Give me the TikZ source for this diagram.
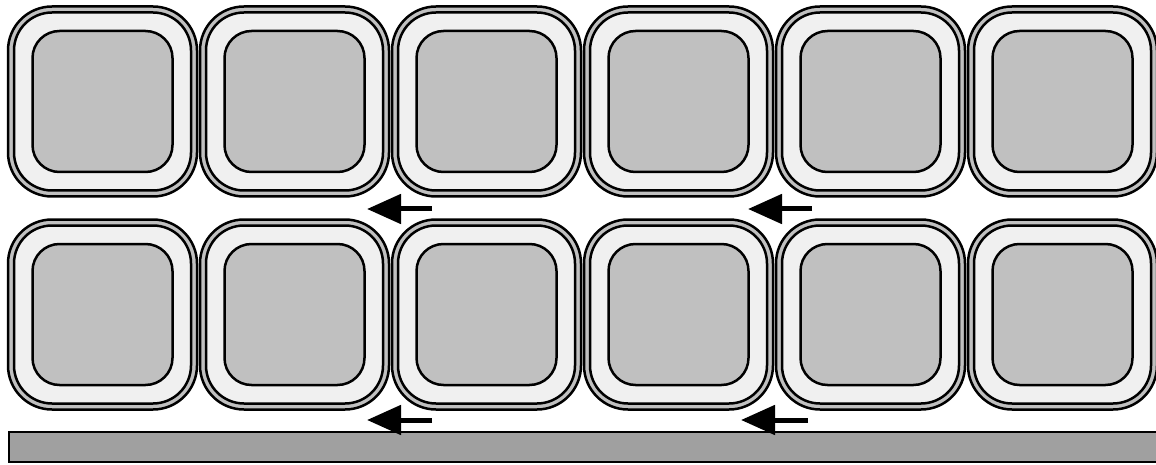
\documentclass[tikz,border=0pt]{standalone}
\usetikzlibrary{arrows.meta}
\definecolor{rimgray}{RGB}{192,192,192}
\definecolor{bandgray}{RGB}{240,240,240}
\definecolor{floorgray}{RGB}{160,160,160}

\begin{document}
\begin{tikzpicture}[x=1pt,y=-1pt,
  cellrim/.style={draw=black,line width=2.5pt,fill=rimgray,rounded corners=44pt},
  cellband/.style={draw=black,line width=2.5pt,fill=bandgray,rounded corners=38pt},
  cellcore/.style={draw=black,line width=2.5pt,fill=rimgray,rounded corners=27pt},
  push/.style={line width=5pt,-{Triangle[length=34pt,width=29pt]}}]
  \useasboundingbox (0,0) rectangle (1156,465);
  % cells, two rows of six
  \foreach \i in {0,...,5}
    \foreach \cy in {101.5,314.5} {
      \pgfmathsetmacro\cx{102.5+192*\i}
      \draw[cellrim] (\cx-94.5,\cy-95) rectangle (\cx+94.5,\cy+95);
      \draw[cellband] (\cx-88.5,\cy-89) rectangle (\cx+88.5,\cy+89);
      \draw[cellcore] (\cx-70,\cy-70.5) rectangle (\cx+70,\cy+70.5);
    }
  % substrate
  \draw[line width=2.5pt,fill=floorgray] (9,432) rectangle (1162,462);
  % motion arrows
  \coordinate (t1) at (432,209); \coordinate (t1h) at (367,209);
  \coordinate (t2) at (812,209); \coordinate (t2h) at (748,209);
  \coordinate (b1) at (432,420); \coordinate (b1h) at (367,420);
  \coordinate (b2) at (808,420); \coordinate (b2h) at (741,420);
  \draw[push] (t1) -- (t1h);
  \draw[push] (t2) -- (t2h);
  \draw[push] (b1) -- (b1h);
  \draw[push] (b2) -- (b2h);
\end{tikzpicture}
\end{document}
